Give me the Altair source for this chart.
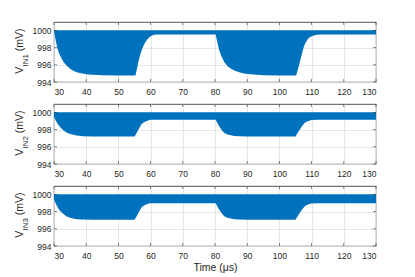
import altair as alt
import pandas as pd

# ---- data (lower envelope of the oscillating band) ----
TIME_1 = [30, 30.5, 31, 31.5, 32, 33, 34, 35, 36, 37, 38, 40, 42, 45, 50,
          55.3, 55.8, 56.3, 56.8, 57.3, 58, 59, 60, 61, 62, 70,
          80.2, 80.7, 81.3, 82, 82.9, 84, 85, 86, 87.5, 89, 91, 95, 100,
          105.2, 105.7, 106.4, 107, 107.5, 108, 109, 110, 111.5, 113, 120, 130]
LOW_1 = [1000.0, 998.9, 998.0, 997.4, 997.0, 996.3, 995.9, 995.55, 995.3, 995.15,
         995.05, 994.9, 994.85, 994.8, 994.75, 994.75, 995.6, 996.5, 997.2, 997.8,
         998.4, 999.0, 999.35, 999.5, 999.55, 999.55, 999.55, 998.7, 997.7, 997.0,
         996.3, 995.8, 995.55, 995.35, 995.15, 995.0, 994.9, 994.8, 994.75, 994.75,
         995.4, 996.4, 997.3, 998.0, 998.5, 999.1, 999.35, 999.5, 999.55, 999.55, 999.55]

TIME_2 = [30, 30.5, 31, 31.5, 32, 33, 34, 35, 36, 37, 39, 42, 50, 55.0, 55.5,
          56.0, 56.5, 57.1, 57.8, 58.6, 59.4, 60.2, 62, 70, 80.2,
          80.7, 81.2, 82, 82.8, 83.8, 84.9, 86, 87.5, 90, 100,
          105.0, 105.6, 106.4, 107.1, 107.9, 108.8, 110, 112, 120, 130]
LOW_2 = [999.5, 999.1, 998.75, 998.5, 998.25, 997.9, 997.65, 997.5, 997.4, 997.32,
         997.25, 997.2, 997.2, 997.2, 997.5, 997.85, 998.2, 998.6, 998.85, 999.0,
         999.1, 999.15, 999.15, 999.15, 999.15, 998.8, 998.45, 998.0, 997.65, 997.45,
         997.35, 997.28, 997.25, 997.2, 997.2, 997.2, 997.6, 998.05, 998.45, 998.8,
         999.0, 999.12, 999.15, 999.15, 999.15]

TIME_3 = [30, 30.5, 31, 31.5, 32, 33, 34, 35, 36, 37, 39, 42, 50, 55.0, 55.5,
          56.0, 56.5, 57.1, 57.8, 58.6, 59.4, 60.2, 62, 70, 80.2,
          80.7, 81.2, 82, 82.8, 83.8, 84.9, 86, 87.5, 90, 100,
          105.0, 105.6, 106.4, 107.1, 107.9, 108.8, 110, 112, 120, 130]
LOW_3 = [999.45, 999.0, 998.6, 998.3, 998.05, 997.7, 997.45, 997.3, 997.2, 997.12,
         997.08, 997.05, 997.05, 997.05, 997.35, 997.7, 998.05, 998.45, 998.7, 998.85,
         998.95, 999.0, 999.0, 999.0, 999.0, 998.65, 998.3, 997.85, 997.5, 997.3,
         997.2, 997.12, 997.08, 997.05, 997.05, 997.05, 997.45, 997.9, 998.3, 998.65,
         998.85, 998.97, 999.0, 999.0, 999.0]

HIGH_LEVEL = [1000.05, 1000.05, 1000.05]
SUBSCRIPTS = ["IN1", "IN2", "IN3"]
Y_MAIN = "V"
Y_UNIT = "(mV)"
X_TITLE = "Time (μs)"

X_TICKS = [30, 40, 50, 60, 70, 80, 90, 100, 110, 120, 130]
Y_TICKS = [994, 996, 998, 1000]
X_DOMAIN = [30, 130]
Y_DOMAIN = [994, 1001]

# ---- styling ----
W, H = 322, 60
FONT = "Liberation Sans"
INK = "#262626"
BLUE = "#0072BD"
TITLE_SIZE = 10.5
SUB_SIZE = 8


def panel(times, lows, high, sub, show_xtitle):
    df = pd.DataFrame({"t": times, "lo": lows, "hi": [high] * len(times)})
    xscale = alt.Scale(domain=X_DOMAIN, nice=False, zero=False)
    yscale = alt.Scale(domain=Y_DOMAIN, nice=False, zero=False)
    xaxis_kw = dict(values=X_TICKS, grid=True, ticks=False, domain=False,
                    labelPadding=5, titlePadding=3, format="d", zindex=0)
    if show_xtitle:
        xaxis = alt.Axis(title=X_TITLE, **xaxis_kw)
    else:
        xaxis = alt.Axis(title=None, **xaxis_kw)
    yaxis = alt.Axis(values=Y_TICKS, grid=True, ticks=False, domain=False,
                     labelPadding=3, title=None, format="d", zindex=0)
    area = alt.Chart(df).mark_area(color=BLUE, opacity=1).encode(
        x=alt.X("t:Q", scale=xscale, axis=xaxis),
        y=alt.Y("lo:Q", scale=yscale, axis=yaxis),
        y2="hi:Q",
    )
    xt = pd.DataFrame({"t": X_TICKS})
    yt = pd.DataFrame({"lo": Y_TICKS})
    tick_top = alt.Chart(xt).mark_tick(orient="vertical", size=3, thickness=0.8, color=INK).encode(
        x=alt.X("t:Q", scale=xscale, axis=xaxis), y=alt.value(1.5))
    tick_bot = alt.Chart(xt).mark_tick(orient="vertical", size=3, thickness=0.8, color=INK).encode(
        x=alt.X("t:Q", scale=xscale, axis=xaxis), y=alt.value(H - 1.5))
    tick_left = alt.Chart(yt).mark_tick(orient="horizontal", size=3, thickness=0.8, color=INK).encode(
        y=alt.Y("lo:Q", scale=yscale, axis=yaxis), x=alt.value(1.5))
    tick_right = alt.Chart(yt).mark_tick(orient="horizontal", size=3, thickness=0.8, color=INK).encode(
        y=alt.Y("lo:Q", scale=yscale, axis=yaxis), x=alt.value(W - 1.5))

    # y-axis title "V_INn (mV)" composed of three rotated texts
    start = H / 2 + 21.7
    t_main = alt.Chart(pd.DataFrame({"s": [Y_MAIN]})).mark_text(
        angle=270, align="left", baseline="alphabetic", font=FONT,
        fontSize=TITLE_SIZE, color=INK).encode(
        text="s:N", x=alt.value(-31), y=alt.value(start))
    t_sub = alt.Chart(pd.DataFrame({"s": [sub]})).mark_text(
        angle=270, align="left", baseline="alphabetic", font=FONT,
        fontSize=SUB_SIZE, color=INK).encode(
        text="s:N", x=alt.value(-26), y=alt.value(start - 7.2))
    t_unit = alt.Chart(pd.DataFrame({"s": [Y_UNIT]})).mark_text(
        angle=270, align="left", baseline="alphabetic", font=FONT,
        fontSize=TITLE_SIZE, color=INK).encode(
        text="s:N", x=alt.value(-31), y=alt.value(start - 7.2 - 12.4 - 2.9))

    return alt.layer(area, tick_top, tick_bot, tick_left, tick_right,
                     t_main, t_sub, t_unit).properties(width=W, height=H)


p1 = panel(TIME_1, LOW_1, HIGH_LEVEL[0], SUBSCRIPTS[0], False)
p2 = panel(TIME_2, LOW_2, HIGH_LEVEL[1], SUBSCRIPTS[1], False)
p3 = panel(TIME_3, LOW_3, HIGH_LEVEL[2], SUBSCRIPTS[2], True)

chart = alt.vconcat(p1, p2, p3, spacing=22, bounds="flush").configure_view(
    stroke=INK, strokeWidth=0.8
).configure_axis(
    labelFont=FONT, labelFontSize=8.5, labelColor=INK,
    gridColor="#e0e0e0", gridWidth=0.8,
    titleFont=FONT, titleFontSize=TITLE_SIZE, titleColor=INK, titleFontWeight="normal",
).properties(
    padding={"left": 6, "top": 13, "right": 5, "bottom": 5},
    background="white",
)

chart.save("out.html", embed_options={"renderer": "svg", "actions": False})
